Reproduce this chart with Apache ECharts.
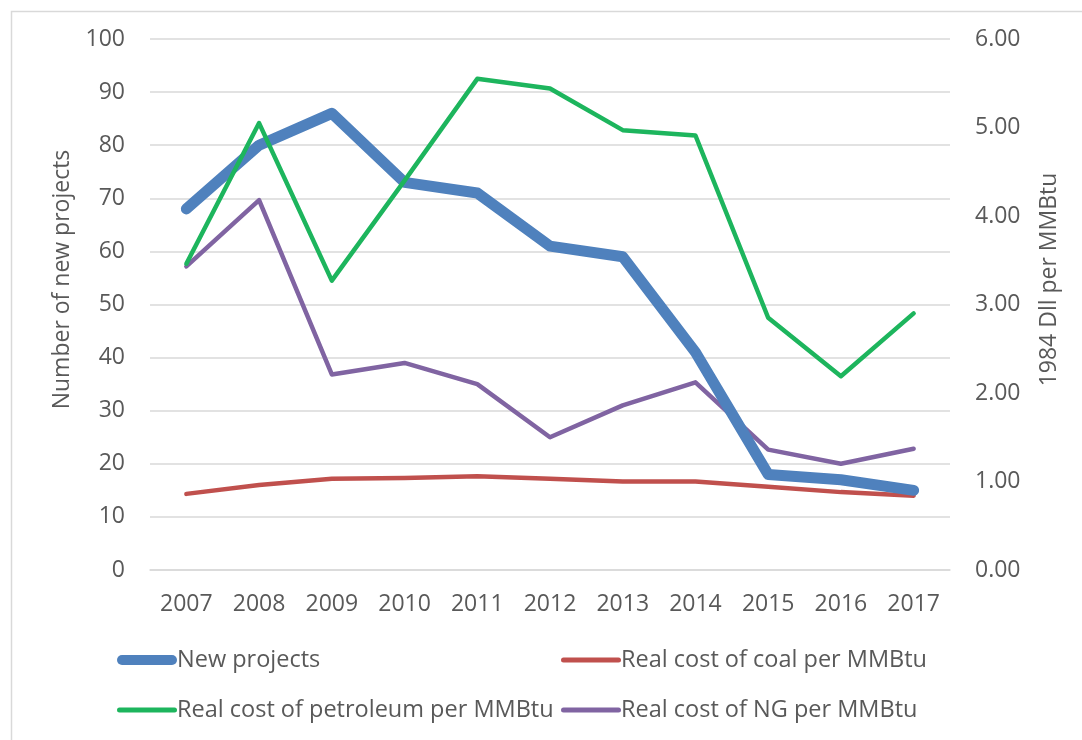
<!DOCTYPE html>
<html>
<head>
<meta charset="utf-8">
<script src="https://cdn.jsdelivr.net/npm/echarts@6/dist/echarts.min.js"></script>
<style>html,body{margin:0;padding:0;background:#fff;}#c{width:1082px;height:740px;}</style>
</head>
<body>
<div id="c"></div>
<script>
const years = ['2007','2008','2009','2010','2011','2012','2013','2014','2015','2016','2017'];
const newProjects = [68, 80, 86, 73, 71, 61, 59, 41, 18, 17, 15];
const coalCost = [0.86, 0.96, 1.03, 1.04, 1.06, 1.03, 1.00, 1.00, 0.94, 0.88, 0.84];
const petroleumCost = [3.46, 5.05, 3.27, 4.40, 5.55, 5.44, 4.97, 4.91, 2.85, 2.19, 2.90];
const ngCost = [3.43, 4.18, 2.21, 2.34, 2.10, 1.50, 1.86, 2.12, 1.36, 1.20, 1.37];
const leftTicks = {min: 0, max: 100, interval: 10};
const rightTicks = {min: 0, max: 6, interval: 1};

const FONT = 'Open Sans';
const TXT = '#595959';
const colors = ['#4f81bd', '#c0504d', '#1db55d', '#8064a2'];
const chart = echarts.init(document.getElementById('c'));
const names = ['New projects','Real cost of coal per MMBtu','Real cost of petroleum per MMBtu','Real cost of NG per MMBtu'];
const thickIcon = 'path://M5,0 L55,0 A5,5 0 0 1 55,10 L5,10 A5,5 0 0 1 5,0 Z';
const thinIcon = 'path://M2.5,0 L57.5,0 A2.5,2.5 0 0 1 57.5,5 L2.5,5 A2.5,2.5 0 0 1 2.5,0 Z';
const legendCommon = {
  orient: 'vertical', itemWidth: 60, itemHeight: 14, itemGap: 26, padding: 0,
  textStyle: {fontFamily: FONT, fontSize: 23.5, color: TXT, padding: [0,0,0,-5]},
  selectedMode: false
};
chart.setOption({
  animation: false,
  textStyle: {fontFamily: FONT},
  graphic: [{type: 'rect', shape: {x: 11.5, y: 11.5, width: 1200, height: 900}, style: {fill: 'none', stroke: '#d9d9d9', lineWidth: 1.5}, silent: true}],
  grid: {left: 150, right: 132, top: 39, bottom: 170, containLabel: false},
  legend: [
    Object.assign({left: 117, top: 648, data: [
      {name: names[0], icon: thickIcon},
      {name: names[2], icon: thinIcon}
    ]}, legendCommon),
    Object.assign({left: 561, top: 648, data: [
      {name: names[1], icon: thinIcon},
      {name: names[3], icon: thinIcon}
    ]}, legendCommon)
  ],
  xAxis: {
    type: 'category', data: years, boundaryGap: true,
    axisLine: {lineStyle: {color: '#d9d9d9', width: 1.5}},
    axisTick: {show: false},
    axisLabel: {color: TXT, fontSize: 23, fontFamily: FONT, margin: 23}
  },
  yAxis: [
    {
      type: 'value', min: leftTicks.min, max: leftTicks.max, interval: leftTicks.interval,
      name: 'Number of new projects', nameLocation: 'middle', nameGap: 76, nameRotate: 90,
      nameTextStyle: {color: TXT, fontSize: 23, fontFamily: FONT, padding: [0,0,0,50]},
      axisLine: {show: false}, axisTick: {show: false},
      axisLabel: {color: TXT, fontSize: 23, fontFamily: FONT, margin: 25},
      splitLine: {lineStyle: {color: '#d9d9d9', width: 1.5}}
    },
    {
      type: 'value', min: rightTicks.min, max: rightTicks.max, interval: rightTicks.interval,
      name: '1984 Dll per MMBtu', nameLocation: 'middle', nameGap: 88, nameRotate: 90,
      nameTextStyle: {color: TXT, fontSize: 23, fontFamily: FONT, padding: [0,0,0,50]},
      axisLine: {show: false}, axisTick: {show: false},
      axisLabel: {color: TXT, fontSize: 23, fontFamily: FONT, margin: 25, formatter: v => v.toFixed(2)},
      splitLine: {show: false}
    }
  ],
  series: [
    {name: names[0], type: 'line', yAxisIndex: 0, data: newProjects, symbol: 'none', color: colors[0],
     lineStyle: {width: 11, color: colors[0], cap: 'round', join: 'round'}, z: 3},
    {name: names[1], type: 'line', yAxisIndex: 1, data: coalCost, symbol: 'none', color: colors[1],
     lineStyle: {width: 4.5, color: colors[1], cap: 'round', join: 'round'}, z: 2},
    {name: names[2], type: 'line', yAxisIndex: 1, data: petroleumCost, symbol: 'none', color: colors[2],
     lineStyle: {width: 4.5, color: colors[2], cap: 'round', join: 'round'}, z: 4},
    {name: names[3], type: 'line', yAxisIndex: 1, data: ngCost, symbol: 'none', color: colors[3],
     lineStyle: {width: 4.5, color: colors[3], cap: 'round', join: 'round'}, z: 2}
  ]
});
</script>
</body>
</html>
